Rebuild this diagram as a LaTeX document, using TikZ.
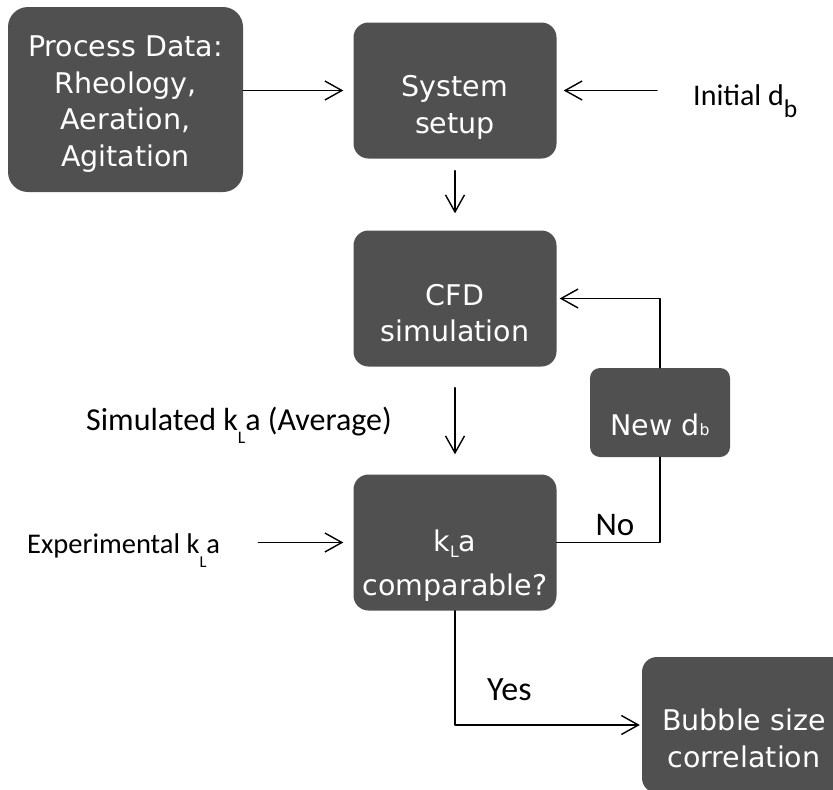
\documentclass[tikz,border=0pt]{standalone}
\usepackage{fontspec}
\usepackage{graphicx}
\usetikzlibrary{arrows.meta,positioning}

\newfontfamily\boxfont{DejaVu Sans}
\newfontfamily\lblfont{Carlito}
\definecolor{boxgray}{HTML}{505050}

% strut that pushes the box text down a bit
\newcommand{\lift}[1]{\rule{0pt}{#1}}
% lowered, scaled index: drop, scale, text
\newcommand{\lsub}[3]{\raisebox{#1}{\scalebox{#2}{#3}}}

\tikzset{
  box/.style={fill=boxgray,text=white,rounded corners=15pt,align=center,
    minimum width=203pt,minimum height=136pt,inner sep=0pt,
    font=\boxfont\fontsize{28.5}{36.5}\selectfont},
  lbl/.style={inner sep=0pt,font=\lblfont\fontsize{30}{36}\selectfont},
  flow/.style={->,line width=1.4pt},
}

\begin{document}
\begin{tikzpicture}[x=1pt,y=-1pt,>={Straight Barb[length=17pt,width=19pt]},line join=round,line cap=round]
	\useasboundingbox (0,0) rectangle (833,790);
	% boxes
	\node[box,minimum width=235pt,minimum height=185pt,rounded corners=20pt] (data) at (125.5,99.5)
		{\lift{30pt}Process Data:\\Rheology,\\Aeration,\\Agitation};
	\node[box] (setup) at (455,90.5) {\lift{55pt}System\\setup};
	\node[box] (cfd) at (455,298.5) {\lift{50pt}CFD\\simulation};
	\node[box,minimum width=140pt,minimum height=89pt,rounded corners=10pt] (newdb) at (660,412.5)
		{\lift{46pt}New d\lsub{0pt}{.55}{b}};
	\node[box] (cmp) at (455,542.5) {\lift{68pt}k\lsub{-6pt}{.55}{L}a\\[8pt]comparable?};
	\node[box,minimum width=204pt] (bubble) at (744,725) {\lift{48pt}Bubble size\\correlation};
	% labels
	\node[lbl,anchor=base west] (init) at (693,105) {Initial d\lsub{-12pt}{.85}{b}};
	\node[lbl,anchor=base west,font=\lblfont\fontsize{32}{36}\selectfont] (simka) at (86,430)
		{Simulated k\lsub{-13pt}{.55}{L}a (Average)};
	\node[lbl,anchor=base west,font=\lblfont\fontsize{28.5}{34}\selectfont] (expka) at (27,553)
		{Experimental k\lsub{-14pt}{.58}{L}a};
	\node[lbl,anchor=base,font=\lblfont\fontsize{33}{36}\selectfont] (no) at (615,535) {No};
	\node[lbl,anchor=base west,font=\lblfont\fontsize{34}{36}\selectfont] (yes) at (487,700) {Yes};
	% connectors
	\draw[flow,shorten >=10pt] (data.east |- setup.west) -- (setup.west);
	\draw[flow,shorten <=36pt,shorten >=7pt] (init.west |- setup.east) -- (setup.east);
	\draw[flow,shorten <=12pt,shorten >=17pt] (setup) -- (cfd);
	\draw[flow,shorten <=21pt,shorten >=20pt] (cfd) -- (cmp);
	\draw[flow,shorten >=3pt] (newdb.north) |- (cfd.east);
	\draw[line width=1.4pt] (cmp.east) -| (newdb.south);
	\draw[flow,shorten <=38pt,shorten >=10pt] (expka.east |- cmp.west) -- (cmp.west);
	\draw[flow,shorten >=2pt] (cmp.south) |- (bubble.west);
\end{tikzpicture}
\end{document}
